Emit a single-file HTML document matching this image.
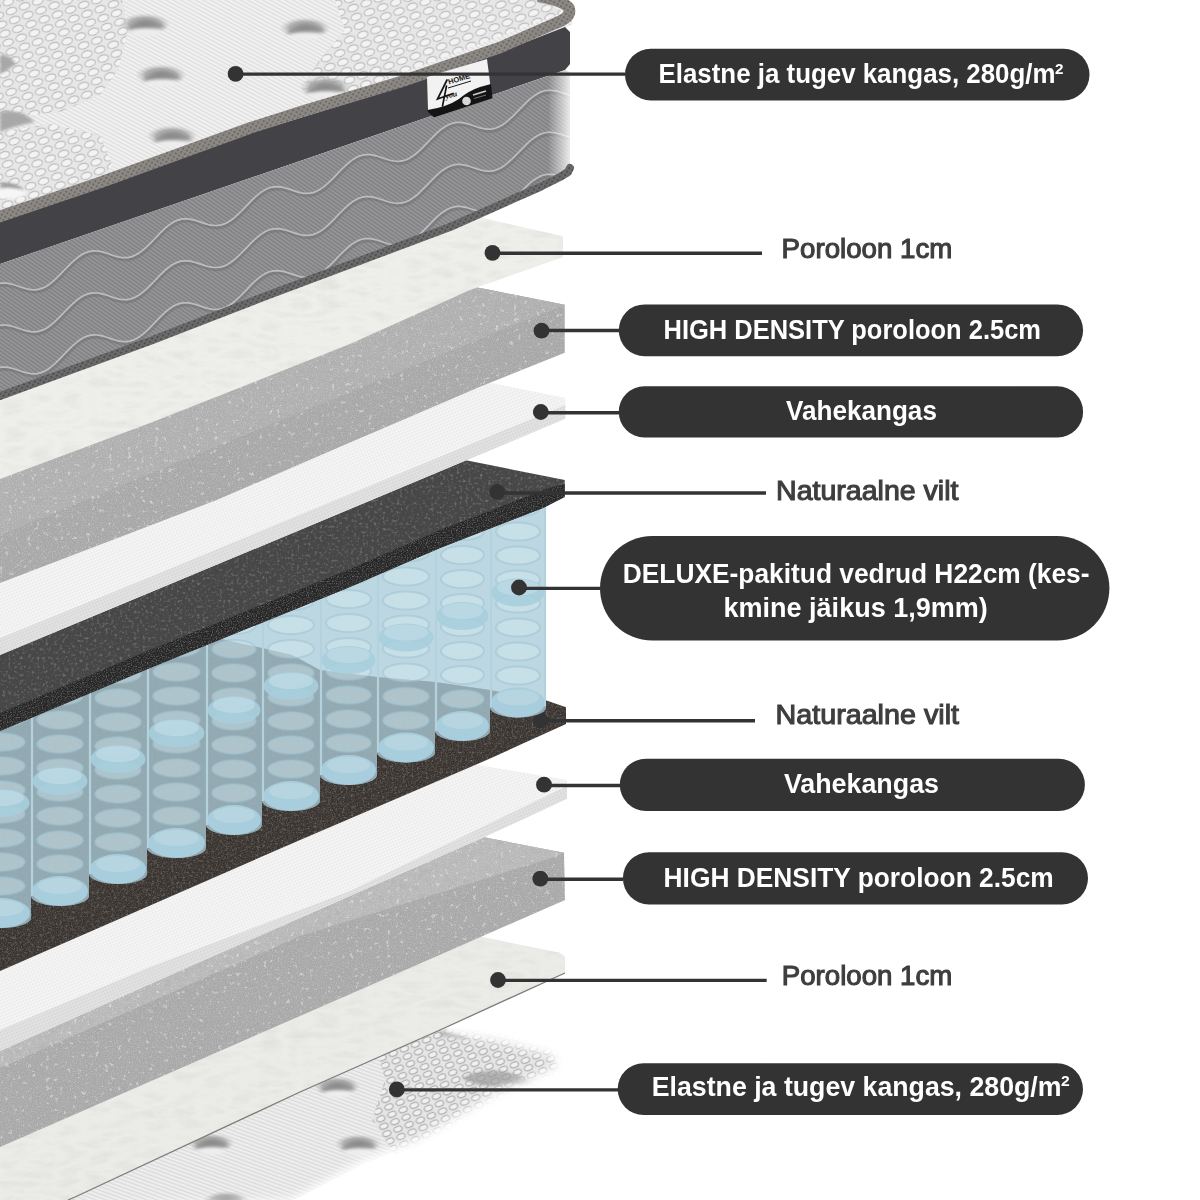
<!DOCTYPE html>
<html><head><meta charset="utf-8"><style>
html,body{margin:0;padding:0;background:#fff;width:1200px;height:1200px;overflow:hidden}
svg{display:block}
</style></head><body>
<svg width="1200" height="1200" viewBox="0 0 1200 1200">
<rect width="1200" height="1200" fill="#ffffff"/>
<defs>
 <filter id="fib2" x="0" y="0" width="100%" height="100%">
  <feTurbulence type="turbulence" baseFrequency="0.035 0.1" numOctaves="4" seed="9"/>
  <feColorMatrix type="matrix" values="0 0 0 0 0.45  0 0 0 0 0.45  0 0 0 0 0.42  1.3 0 0 0 -0.28"/>
  <feComposite in2="SourceAlpha" operator="in"/>
 </filter>
 <filter id="dotsL" x="0" y="0" width="100%" height="100%">
  <feTurbulence type="fractalNoise" baseFrequency="0.22" numOctaves="2" seed="21"/>
  <feColorMatrix type="matrix" values="0 0 0 0 1  0 0 0 0 1  0 0 0 0 1  0 0 0 10 -6.6"/>
  <feGaussianBlur stdDeviation="0.6"/>
  <feComposite in2="SourceAlpha" operator="in"/>
 </filter>
 <filter id="dotsD" x="0" y="0" width="100%" height="100%">
  <feTurbulence type="fractalNoise" baseFrequency="0.2" numOctaves="2" seed="33"/>
  <feColorMatrix type="matrix" values="0 0 0 0 0.4  0 0 0 0 0.4  0 0 0 0 0.4  0 0 0 8 -4.7"/>
  <feGaussianBlur stdDeviation="0.8"/>
  <feComposite in2="SourceAlpha" operator="in"/>
 </filter>
 <filter id="spk" x="0" y="0" width="100%" height="100%">
  <feTurbulence type="fractalNoise" baseFrequency="0.8" numOctaves="2" seed="7"/>
  <feColorMatrix type="matrix" values="0 0 0 0 1  0 0 0 0 1  0 0 0 0 1  0 0 0 -2.4 1.35"/>
  <feComposite in2="SourceAlpha" operator="in"/>
 </filter>
 <filter id="spkd" x="0" y="0" width="100%" height="100%">
  <feTurbulence type="fractalNoise" baseFrequency="0.7" numOctaves="2" seed="11"/>
  <feColorMatrix type="matrix" values="0 0 0 0 0  0 0 0 0 0  0 0 0 0 0  0 0 0 -2.4 1.3"/>
  <feComposite in2="SourceAlpha" operator="in"/>
 </filter>
 <filter id="fib" x="0" y="0" width="100%" height="100%">
  <feTurbulence type="fractalNoise" baseFrequency="0.06 0.15" numOctaves="3" seed="5"/>
  <feColorMatrix type="matrix" values="0 0 0 0 0.55  0 0 0 0 0.55  0 0 0 0 0.53  0 0 0 -1.6 0.85"/>
  <feComposite in2="SourceAlpha" operator="in"/>
 </filter>
 <filter id="mott" x="0" y="0" width="100%" height="100%">
  <feTurbulence type="fractalNoise" baseFrequency="0.35" numOctaves="3" seed="2"/>
  <feColorMatrix type="matrix" values="0 0 0 0 0.55  0 0 0 0 0.55  0 0 0 0 0.55  0 0 0 -2.2 1.05"/>
  <feComposite in2="SourceAlpha" operator="in"/>
 </filter>
 <filter id="blur1" x="-20%" y="-50%" width="140%" height="200%"><feGaussianBlur stdDeviation="1.6"/></filter>
 <filter id="blur3"><feGaussianBlur stdDeviation="3"/></filter>
 <pattern id="ribs" width="3.5" height="3.5" patternUnits="userSpaceOnUse" patternTransform="rotate(-62)">
  <rect width="3.5" height="3.5" fill="#f1f1f1"/><rect width="1.3" height="3.5" fill="#dddddd"/>
 </pattern>
 <pattern id="ribs2" width="3.5" height="3.5" patternUnits="userSpaceOnUse" patternTransform="rotate(-70)">
  <rect width="3.5" height="3.5" fill="#eeeeee"/><rect width="1.3" height="3.5" fill="#dadada"/>
 </pattern>
 <pattern id="rings" width="14" height="9.5" patternUnits="userSpaceOnUse" patternTransform="rotate(-20)">
  <rect width="14" height="9.5" fill="#e7e7e7"/>
  <ellipse cx="7" cy="4.75" rx="5.4" ry="3.4" fill="#f3f3f3" stroke="#bababa" stroke-width="1.1"/>
 </pattern>
 <pattern id="rings2" width="12" height="8" patternUnits="userSpaceOnUse" patternTransform="rotate(-22)">
  <rect width="12" height="8" fill="#e5e5e5"/>
  <ellipse cx="6" cy="4" rx="4.3" ry="2.8" fill="#f0f0f0" stroke="#aaaaaa" stroke-width="1.1"/>
 </pattern>
 <pattern id="panel" width="3.2" height="3.2" patternUnits="userSpaceOnUse" patternTransform="rotate(-55)">
  <rect width="3.2" height="3.2" fill="#959597"/><rect width="1.3" height="3.2" fill="#7f7f81"/>
 </pattern>
 <pattern id="pip" width="4" height="4" patternUnits="userSpaceOnUse" patternTransform="rotate(30)">
  <rect width="4" height="4" fill="#8c8884"/><rect width="2" height="2" fill="#6f6b68"/>
 </pattern>
 <pattern id="pip2" width="4" height="4" patternUnits="userSpaceOnUse" patternTransform="rotate(30)">
  <rect width="4" height="4" fill="#6a6a6a"/><rect width="2" height="2" fill="#4e4e4e"/>
 </pattern>
 <pattern id="mesh" width="3" height="3" patternUnits="userSpaceOnUse" patternTransform="rotate(-22)">
  <rect width="3" height="3" fill="#f5f5f5"/><rect width="1.5" height="1.5" fill="#e6e6e6"/>
 </pattern>
 <pattern id="meshf" width="3" height="3" patternUnits="userSpaceOnUse" patternTransform="rotate(-22)">
  <rect width="3" height="3" fill="#e2e2e2"/><rect width="1.5" height="1.5" fill="#d2d2d2"/>
 </pattern>
 <radialGradient id="tuftg" cx="0.5" cy="0.55" r="0.5">
  <stop offset="0" stop-color="#8a8a8a" stop-opacity="1"/><stop offset="0.6" stop-color="#a0a0a0" stop-opacity="0.8"/><stop offset="1" stop-color="#c8c8c8" stop-opacity="0"/>
 </radialGradient>
 <linearGradient id="endfade" x1="0" x2="1" y1="0" y2="0">
  <stop offset="0" stop-color="#fff" stop-opacity="0"/><stop offset="1" stop-color="#fff" stop-opacity="0.9"/>
 </linearGradient>
 <linearGradient id="m2f" gradientUnits="userSpaceOnUse" x1="400" y1="1075" x2="470" y2="1150">
  <stop offset="0" stop-color="#fff" stop-opacity="0"/><stop offset="1" stop-color="#fff" stop-opacity="1"/>
 </linearGradient>
 <linearGradient id="m2f2" gradientUnits="userSpaceOnUse" x1="520" y1="1040" x2="575" y2="1050">
  <stop offset="0" stop-color="#fff" stop-opacity="0"/><stop offset="1" stop-color="#fff" stop-opacity="1"/>
 </linearGradient>
</defs>
<filter id="blur6" x="-10%" y="-10%" width="120%" height="120%"><feGaussianBlur stdDeviation="5"/></filter>
<mask id="mm2"><polygon points="0.0,990.0 445.0,990.0 445.0,1033.0 500.0,1042.0 552.0,1056.0 556.0,1066.0 495.0,1093.0 422.0,1136.0 364.0,1159.0 290.0,1200.0 0.0,1210.0" fill="#fff" filter="url(#blur6)"/></mask>
<g mask="url(#mm2)">
<polygon points="0.0,1000.0 440.0,1000.0 440.0,1029.0 500.0,1038.0 556.0,1052.0 564.0,1066.0 498.0,1096.0 425.0,1140.0 367.0,1163.0 294.0,1200.0 0.0,1200.0" fill="url(#ribs2)" />
<polygon points="372.0,1030.0 600.0,1025.0 600.0,1120.0 470.0,1130.0 395.0,1155.0 372.0,1120.0 385.0,1080.0" fill="url(#rings2)" />
<path d="M462,1078 Q480,1068 505,1072 Q525,1076 540,1088 Q515,1082 495,1086 Q478,1088 462,1078 Z" fill="#9a9a9a" opacity="0.7" filter="url(#blur1)"/>
<path d="M440,1031 Q455,1030 470,1040 Q455,1038 440,1036 Z" fill="#8a8a8a" opacity="0.6" filter="url(#blur1)"/>
<ellipse cx="211" cy="1142" rx="24" ry="10" fill="url(#tuftg)"/>
<path d="M193,1149 Q211,1132 230,1147 Q211,1143 193,1149 Z" fill="#8c8c8c" opacity="0.8" filter="url(#blur1)"/>
<ellipse cx="212" cy="1151" rx="13" ry="3.5" fill="#eeeeee" filter="url(#blur1)"/>
<ellipse cx="337" cy="1085" rx="24" ry="10" fill="url(#tuftg)"/>
<path d="M319,1092 Q337,1075 356,1090 Q337,1086 319,1092 Z" fill="#8c8c8c" opacity="0.8" filter="url(#blur1)"/>
<ellipse cx="338" cy="1094" rx="13" ry="3.5" fill="#eeeeee" filter="url(#blur1)"/>
<ellipse cx="358" cy="1143" rx="24" ry="10" fill="url(#tuftg)"/>
<path d="M340,1150 Q358,1133 377,1148 Q358,1144 340,1150 Z" fill="#8c8c8c" opacity="0.8" filter="url(#blur1)"/>
<ellipse cx="359" cy="1152" rx="13" ry="3.5" fill="#eeeeee" filter="url(#blur1)"/>
<ellipse cx="226" cy="1200" rx="24" ry="10" fill="url(#tuftg)"/>
<path d="M208,1207 Q226,1190 245,1205 Q226,1201 208,1207 Z" fill="#8c8c8c" opacity="0.8" filter="url(#blur1)"/>
<ellipse cx="227" cy="1209" rx="13" ry="3.5" fill="#eeeeee" filter="url(#blur1)"/>
</g>
<polygon points="0.0,820.0 484.0,937.3 560.0,952.7 565.0,957.0 565.0,973.0 440.0,1030.0 300.0,1092.0 75.0,1197.0 68.0,1200.0 0.0,1200.0" fill="#ebebe8" />
<polygon points="0.0,820.0 484.0,937.3 560.0,952.7 565.0,957.0 565.0,973.0 440.0,1030.0 300.0,1092.0 75.0,1197.0 68.0,1200.0 0.0,1200.0" fill="#000" filter="url(#fib2)" opacity="0.22"/>
<polyline points="565.0,973.0 440.0,1030.0 300.0,1092.0 75.0,1197.0 68.0,1200.0" fill="none" stroke="#7d7c78" stroke-width="1.3"/>
<polygon points="0.0,744.0 484.0,837.3 564.0,852.7 565.0,900.0 440.0,954.7 300.0,1016.0 0.0,1147.0" fill="#a8a8a8" />
<polygon points="0.0,744.0 484.0,837.3 564.0,852.7 552.0,858.0 300.0,936.0 0.0,1068.0" fill="#b8b8b8" />
<polygon points="0.0,744.0 484.0,837.3 564.0,852.7 565.0,900.0 440.0,954.7 300.0,1016.0 0.0,1147.0" fill="#fff" filter="url(#spk)" opacity="0.25"/>
<polygon points="0.0,744.0 484.0,837.3 564.0,852.7 565.0,900.0 440.0,954.7 300.0,1016.0 0.0,1147.0" fill="#fff" filter="url(#dotsL)" opacity="0.35"/>
<polygon points="0.0,744.0 484.0,837.3 564.0,852.7 565.0,900.0 440.0,954.7 300.0,1016.0 0.0,1147.0" fill="#fff" filter="url(#dotsD)" opacity="0.45"/>
<polygon points="0.0,684.0 496.0,768.0 567.0,780.0 567.0,798.7 484.0,837.3 350.0,896.0 150.0,984.0 0.0,1051.0" fill="url(#mesh)" />
<polygon points="567.0,786.0 350.0,891.0 150.0,967.0 0.0,1030.0 0.0,1051.0 150.0,984.0 350.0,896.0 484.0,837.3 567.0,798.7" fill="url(#meshf)" />
<polygon points="0.0,590.0 262.0,648.0 292.0,655.0 320.0,670.0 377.0,677.0 435.0,682.0 490.0,690.0 545.0,700.0 566.0,707.3 566.0,724.0 486.7,760.0 300.0,840.0 0.0,971.0" fill="#39332f" />
<polygon points="0.0,590.0 262.0,648.0 292.0,655.0 320.0,670.0 377.0,677.0 435.0,682.0 490.0,690.0 545.0,700.0 566.0,707.3 566.0,724.0 486.7,760.0 300.0,840.0 0.0,971.0" fill="#000" filter="url(#mott)" opacity="0.35"/>
<polygon points="0.0,590.0 262.0,648.0 292.0,655.0 320.0,670.0 377.0,677.0 435.0,682.0 490.0,690.0 545.0,700.0 566.0,707.3 566.0,724.0 486.7,760.0 300.0,840.0 0.0,971.0" fill="#9a928c" filter="url(#spk)" opacity="0.18"/>
<line x1="540.5" y1="720.8" x2="755" y2="720.8" stroke="#333333" stroke-width="3.4"/>
<circle cx="540.5" cy="720.5" r="7.9" fill="#333333"/>
<clipPath id="csp"><path d="M-29,737.0106194690266 L31,712.1610619469027 L31,918 A30.0,10 0 0 1 -29,918 Z M31,712.1610619469027 L89,688.1398230088496 L89,896 A29.0,10 0 0 1 31,896 Z M89,688.1398230088496 L147,664.1185840707965 L147,874 A29.0,10 0 0 1 89,874 Z M147,664.1185840707965 L206,639.683185840708 L206,848 A29.5,10 0 0 1 147,848 Z M206,639.683185840708 L262,616.4902654867257 L262,825 A28.0,10 0 0 1 206,825 Z M262,616.4902654867257 L320,592.4690265486726 L320,801 A29.0,10 0 0 1 262,801 Z M320,592.4690265486726 L377,568.8619469026548 L377,775 A28.5,10 0 0 1 320,775 Z M377,568.8619469026548 L435,544.8407079646017 L435,752.5 A29.0,10 0 0 1 377,752.5 Z M435,544.8407079646017 L490,522.0619469026549 L490,731 A27.5,10 0 0 1 435,731 Z M490,522.0619469026549 L546,498.86902654867254 L546,707.5 A28.0,10 0 0 1 490,707.5 Z"/></clipPath>
<g>
<path d="M-29,737.0106194690266 L31,712.1610619469027 L31,918 A30.0,10 0 0 1 -29,918 Z" fill="#adcedb" fill-opacity="0.82"/>
<path d="M31,712.1610619469027 L89,688.1398230088496 L89,896 A29.0,10 0 0 1 31,896 Z" fill="#adcedb" fill-opacity="0.82"/>
<path d="M89,688.1398230088496 L147,664.1185840707965 L147,874 A29.0,10 0 0 1 89,874 Z" fill="#adcedb" fill-opacity="0.82"/>
<path d="M147,664.1185840707965 L206,639.683185840708 L206,848 A29.5,10 0 0 1 147,848 Z" fill="#adcedb" fill-opacity="0.82"/>
<path d="M206,639.683185840708 L262,616.4902654867257 L262,825 A28.0,10 0 0 1 206,825 Z" fill="#adcedb" fill-opacity="0.82"/>
<path d="M262,616.4902654867257 L320,592.4690265486726 L320,801 A29.0,10 0 0 1 262,801 Z" fill="#adcedb" fill-opacity="0.82"/>
<path d="M320,592.4690265486726 L377,568.8619469026548 L377,775 A28.5,10 0 0 1 320,775 Z" fill="#adcedb" fill-opacity="0.82"/>
<path d="M377,568.8619469026548 L435,544.8407079646017 L435,752.5 A29.0,10 0 0 1 377,752.5 Z" fill="#adcedb" fill-opacity="0.82"/>
<path d="M435,544.8407079646017 L490,522.0619469026549 L490,731 A27.5,10 0 0 1 435,731 Z" fill="#adcedb" fill-opacity="0.82"/>
<path d="M490,522.0619469026549 L546,498.86902654867254 L546,707.5 A28.0,10 0 0 1 490,707.5 Z" fill="#adcedb" fill-opacity="0.82"/>
<g clip-path="url(#csp)">
<polygon points="0.0,590.0 262.0,648.0 292.0,655.0 320.0,670.0 377.0,677.0 435.0,682.0 490.0,690.0 545.0,700.0 566.0,707.3 566.0,724.0 486.7,760.0 300.0,840.0 0.0,971.0" fill="#8a9aa3" opacity="0.4"/>
</g>
<ellipse cx="1.0" cy="886.0" rx="24.0" ry="9" fill="#d8eaf1" fill-opacity="0.4" stroke="#9cc2d2" stroke-width="2" stroke-opacity="0.5"/>
<ellipse cx="1.0" cy="862.0" rx="24.0" ry="9" fill="#d8eaf1" fill-opacity="0.4" stroke="#9cc2d2" stroke-width="2" stroke-opacity="0.5"/>
<ellipse cx="1.0" cy="838.0" rx="24.0" ry="9" fill="#d8eaf1" fill-opacity="0.4" stroke="#9cc2d2" stroke-width="2" stroke-opacity="0.5"/>
<ellipse cx="1.0" cy="814.0" rx="24.0" ry="9" fill="#d8eaf1" fill-opacity="0.4" stroke="#9cc2d2" stroke-width="2" stroke-opacity="0.5"/>
<ellipse cx="1.0" cy="790.0" rx="24.0" ry="9" fill="#d8eaf1" fill-opacity="0.4" stroke="#9cc2d2" stroke-width="2" stroke-opacity="0.5"/>
<ellipse cx="1.0" cy="766.0" rx="24.0" ry="9" fill="#d8eaf1" fill-opacity="0.4" stroke="#9cc2d2" stroke-width="2" stroke-opacity="0.5"/>
<ellipse cx="1.0" cy="742.0" rx="24.0" ry="9" fill="#d8eaf1" fill-opacity="0.4" stroke="#9cc2d2" stroke-width="2" stroke-opacity="0.5"/>
<ellipse cx="1.0" cy="718.0" rx="24.0" ry="9" fill="#d8eaf1" fill-opacity="0.4" stroke="#9cc2d2" stroke-width="2" stroke-opacity="0.5"/>
<ellipse cx="1.0" cy="803" rx="28.5" ry="14" fill="#a7cedd" fill-opacity="0.9"/>
<ellipse cx="1.0" cy="798" rx="23.0" ry="8" fill="#bcd9e4" fill-opacity="0.85"/>
<ellipse cx="1.0" cy="913" rx="29.0" ry="15" fill="#a8cddc"/>
<ellipse cx="1.0" cy="908" rx="23.0" ry="8" fill="#b6d5e0"/>
<line x1="-28" y1="737.0106194690266" x2="-28" y2="918" stroke="#b3d2de" stroke-width="2.2"/>
<ellipse cx="60.0" cy="864.0" rx="23.0" ry="9" fill="#d8eaf1" fill-opacity="0.4" stroke="#9cc2d2" stroke-width="2" stroke-opacity="0.5"/>
<ellipse cx="60.0" cy="840.0" rx="23.0" ry="9" fill="#d8eaf1" fill-opacity="0.4" stroke="#9cc2d2" stroke-width="2" stroke-opacity="0.5"/>
<ellipse cx="60.0" cy="816.0" rx="23.0" ry="9" fill="#d8eaf1" fill-opacity="0.4" stroke="#9cc2d2" stroke-width="2" stroke-opacity="0.5"/>
<ellipse cx="60.0" cy="792.0" rx="23.0" ry="9" fill="#d8eaf1" fill-opacity="0.4" stroke="#9cc2d2" stroke-width="2" stroke-opacity="0.5"/>
<ellipse cx="60.0" cy="768.0" rx="23.0" ry="9" fill="#d8eaf1" fill-opacity="0.4" stroke="#9cc2d2" stroke-width="2" stroke-opacity="0.5"/>
<ellipse cx="60.0" cy="744.0" rx="23.0" ry="9" fill="#d8eaf1" fill-opacity="0.4" stroke="#9cc2d2" stroke-width="2" stroke-opacity="0.5"/>
<ellipse cx="60.0" cy="720.0" rx="23.0" ry="9" fill="#d8eaf1" fill-opacity="0.4" stroke="#9cc2d2" stroke-width="2" stroke-opacity="0.5"/>
<ellipse cx="60.0" cy="696.0" rx="23.0" ry="9" fill="#d8eaf1" fill-opacity="0.4" stroke="#9cc2d2" stroke-width="2" stroke-opacity="0.5"/>
<ellipse cx="60.0" cy="781" rx="27.5" ry="14" fill="#a7cedd" fill-opacity="0.9"/>
<ellipse cx="60.0" cy="776" rx="22.0" ry="8" fill="#bcd9e4" fill-opacity="0.85"/>
<ellipse cx="60.0" cy="891" rx="28.0" ry="15" fill="#a8cddc"/>
<ellipse cx="60.0" cy="886" rx="22.0" ry="8" fill="#b6d5e0"/>
<line x1="32" y1="712.1610619469027" x2="32" y2="896" stroke="#b3d2de" stroke-width="2.2"/>
<ellipse cx="118.0" cy="842.0" rx="23.0" ry="9" fill="#d8eaf1" fill-opacity="0.4" stroke="#9cc2d2" stroke-width="2" stroke-opacity="0.5"/>
<ellipse cx="118.0" cy="818.0" rx="23.0" ry="9" fill="#d8eaf1" fill-opacity="0.4" stroke="#9cc2d2" stroke-width="2" stroke-opacity="0.5"/>
<ellipse cx="118.0" cy="794.0" rx="23.0" ry="9" fill="#d8eaf1" fill-opacity="0.4" stroke="#9cc2d2" stroke-width="2" stroke-opacity="0.5"/>
<ellipse cx="118.0" cy="770.0" rx="23.0" ry="9" fill="#d8eaf1" fill-opacity="0.4" stroke="#9cc2d2" stroke-width="2" stroke-opacity="0.5"/>
<ellipse cx="118.0" cy="746.0" rx="23.0" ry="9" fill="#d8eaf1" fill-opacity="0.4" stroke="#9cc2d2" stroke-width="2" stroke-opacity="0.5"/>
<ellipse cx="118.0" cy="722.0" rx="23.0" ry="9" fill="#d8eaf1" fill-opacity="0.4" stroke="#9cc2d2" stroke-width="2" stroke-opacity="0.5"/>
<ellipse cx="118.0" cy="698.0" rx="23.0" ry="9" fill="#d8eaf1" fill-opacity="0.4" stroke="#9cc2d2" stroke-width="2" stroke-opacity="0.5"/>
<ellipse cx="118.0" cy="674.0" rx="23.0" ry="9" fill="#d8eaf1" fill-opacity="0.4" stroke="#9cc2d2" stroke-width="2" stroke-opacity="0.5"/>
<ellipse cx="118.0" cy="759" rx="27.5" ry="14" fill="#a7cedd" fill-opacity="0.9"/>
<ellipse cx="118.0" cy="754" rx="22.0" ry="8" fill="#bcd9e4" fill-opacity="0.85"/>
<ellipse cx="118.0" cy="869" rx="28.0" ry="15" fill="#a8cddc"/>
<ellipse cx="118.0" cy="864" rx="22.0" ry="8" fill="#b6d5e0"/>
<line x1="90" y1="688.1398230088496" x2="90" y2="874" stroke="#b3d2de" stroke-width="2.2"/>
<ellipse cx="176.5" cy="816.0" rx="23.5" ry="9" fill="#d8eaf1" fill-opacity="0.4" stroke="#9cc2d2" stroke-width="2" stroke-opacity="0.5"/>
<ellipse cx="176.5" cy="792.0" rx="23.5" ry="9" fill="#d8eaf1" fill-opacity="0.4" stroke="#9cc2d2" stroke-width="2" stroke-opacity="0.5"/>
<ellipse cx="176.5" cy="768.0" rx="23.5" ry="9" fill="#d8eaf1" fill-opacity="0.4" stroke="#9cc2d2" stroke-width="2" stroke-opacity="0.5"/>
<ellipse cx="176.5" cy="744.0" rx="23.5" ry="9" fill="#d8eaf1" fill-opacity="0.4" stroke="#9cc2d2" stroke-width="2" stroke-opacity="0.5"/>
<ellipse cx="176.5" cy="720.0" rx="23.5" ry="9" fill="#d8eaf1" fill-opacity="0.4" stroke="#9cc2d2" stroke-width="2" stroke-opacity="0.5"/>
<ellipse cx="176.5" cy="696.0" rx="23.5" ry="9" fill="#d8eaf1" fill-opacity="0.4" stroke="#9cc2d2" stroke-width="2" stroke-opacity="0.5"/>
<ellipse cx="176.5" cy="672.0" rx="23.5" ry="9" fill="#d8eaf1" fill-opacity="0.4" stroke="#9cc2d2" stroke-width="2" stroke-opacity="0.5"/>
<ellipse cx="176.5" cy="648.0" rx="23.5" ry="9" fill="#d8eaf1" fill-opacity="0.4" stroke="#9cc2d2" stroke-width="2" stroke-opacity="0.5"/>
<ellipse cx="176.5" cy="733" rx="28.0" ry="14" fill="#a7cedd" fill-opacity="0.9"/>
<ellipse cx="176.5" cy="728" rx="22.5" ry="8" fill="#bcd9e4" fill-opacity="0.85"/>
<ellipse cx="176.5" cy="843" rx="28.5" ry="15" fill="#a8cddc"/>
<ellipse cx="176.5" cy="838" rx="22.5" ry="8" fill="#b6d5e0"/>
<line x1="148" y1="664.1185840707965" x2="148" y2="848" stroke="#b3d2de" stroke-width="2.2"/>
<ellipse cx="234.0" cy="793.0" rx="22.0" ry="9" fill="#d8eaf1" fill-opacity="0.4" stroke="#9cc2d2" stroke-width="2" stroke-opacity="0.5"/>
<ellipse cx="234.0" cy="769.0" rx="22.0" ry="9" fill="#d8eaf1" fill-opacity="0.4" stroke="#9cc2d2" stroke-width="2" stroke-opacity="0.5"/>
<ellipse cx="234.0" cy="745.0" rx="22.0" ry="9" fill="#d8eaf1" fill-opacity="0.4" stroke="#9cc2d2" stroke-width="2" stroke-opacity="0.5"/>
<ellipse cx="234.0" cy="721.0" rx="22.0" ry="9" fill="#d8eaf1" fill-opacity="0.4" stroke="#9cc2d2" stroke-width="2" stroke-opacity="0.5"/>
<ellipse cx="234.0" cy="697.0" rx="22.0" ry="9" fill="#d8eaf1" fill-opacity="0.4" stroke="#9cc2d2" stroke-width="2" stroke-opacity="0.5"/>
<ellipse cx="234.0" cy="673.0" rx="22.0" ry="9" fill="#d8eaf1" fill-opacity="0.4" stroke="#9cc2d2" stroke-width="2" stroke-opacity="0.5"/>
<ellipse cx="234.0" cy="649.0" rx="22.0" ry="9" fill="#d8eaf1" fill-opacity="0.4" stroke="#9cc2d2" stroke-width="2" stroke-opacity="0.5"/>
<ellipse cx="234.0" cy="625.0" rx="22.0" ry="9" fill="#d8eaf1" fill-opacity="0.4" stroke="#9cc2d2" stroke-width="2" stroke-opacity="0.5"/>
<ellipse cx="234.0" cy="710" rx="26.5" ry="14" fill="#a7cedd" fill-opacity="0.9"/>
<ellipse cx="234.0" cy="705" rx="21.0" ry="8" fill="#bcd9e4" fill-opacity="0.85"/>
<ellipse cx="234.0" cy="820" rx="27.0" ry="15" fill="#a8cddc"/>
<ellipse cx="234.0" cy="815" rx="21.0" ry="8" fill="#b6d5e0"/>
<line x1="207" y1="639.683185840708" x2="207" y2="825" stroke="#b3d2de" stroke-width="2.2"/>
<ellipse cx="291.0" cy="769.0" rx="23.0" ry="9" fill="#d8eaf1" fill-opacity="0.4" stroke="#9cc2d2" stroke-width="2" stroke-opacity="0.5"/>
<ellipse cx="291.0" cy="745.0" rx="23.0" ry="9" fill="#d8eaf1" fill-opacity="0.4" stroke="#9cc2d2" stroke-width="2" stroke-opacity="0.5"/>
<ellipse cx="291.0" cy="721.0" rx="23.0" ry="9" fill="#d8eaf1" fill-opacity="0.4" stroke="#9cc2d2" stroke-width="2" stroke-opacity="0.5"/>
<ellipse cx="291.0" cy="697.0" rx="23.0" ry="9" fill="#d8eaf1" fill-opacity="0.4" stroke="#9cc2d2" stroke-width="2" stroke-opacity="0.5"/>
<ellipse cx="291.0" cy="673.0" rx="23.0" ry="9" fill="#d8eaf1" fill-opacity="0.4" stroke="#9cc2d2" stroke-width="2" stroke-opacity="0.5"/>
<ellipse cx="291.0" cy="649.0" rx="23.0" ry="9" fill="#d8eaf1" fill-opacity="0.4" stroke="#9cc2d2" stroke-width="2" stroke-opacity="0.5"/>
<ellipse cx="291.0" cy="625.0" rx="23.0" ry="9" fill="#d8eaf1" fill-opacity="0.4" stroke="#9cc2d2" stroke-width="2" stroke-opacity="0.5"/>
<ellipse cx="291.0" cy="601.0" rx="23.0" ry="9" fill="#d8eaf1" fill-opacity="0.4" stroke="#9cc2d2" stroke-width="2" stroke-opacity="0.5"/>
<ellipse cx="291.0" cy="686" rx="27.5" ry="14" fill="#a7cedd" fill-opacity="0.9"/>
<ellipse cx="291.0" cy="681" rx="22.0" ry="8" fill="#bcd9e4" fill-opacity="0.85"/>
<ellipse cx="291.0" cy="796" rx="28.0" ry="15" fill="#a8cddc"/>
<ellipse cx="291.0" cy="791" rx="22.0" ry="8" fill="#b6d5e0"/>
<line x1="263" y1="616.4902654867257" x2="263" y2="801" stroke="#b3d2de" stroke-width="2.2"/>
<ellipse cx="348.5" cy="743.0" rx="22.5" ry="9" fill="#d8eaf1" fill-opacity="0.4" stroke="#9cc2d2" stroke-width="2" stroke-opacity="0.5"/>
<ellipse cx="348.5" cy="719.0" rx="22.5" ry="9" fill="#d8eaf1" fill-opacity="0.4" stroke="#9cc2d2" stroke-width="2" stroke-opacity="0.5"/>
<ellipse cx="348.5" cy="695.0" rx="22.5" ry="9" fill="#d8eaf1" fill-opacity="0.4" stroke="#9cc2d2" stroke-width="2" stroke-opacity="0.5"/>
<ellipse cx="348.5" cy="671.0" rx="22.5" ry="9" fill="#d8eaf1" fill-opacity="0.4" stroke="#9cc2d2" stroke-width="2" stroke-opacity="0.5"/>
<ellipse cx="348.5" cy="647.0" rx="22.5" ry="9" fill="#d8eaf1" fill-opacity="0.4" stroke="#9cc2d2" stroke-width="2" stroke-opacity="0.5"/>
<ellipse cx="348.5" cy="623.0" rx="22.5" ry="9" fill="#d8eaf1" fill-opacity="0.4" stroke="#9cc2d2" stroke-width="2" stroke-opacity="0.5"/>
<ellipse cx="348.5" cy="599.0" rx="22.5" ry="9" fill="#d8eaf1" fill-opacity="0.4" stroke="#9cc2d2" stroke-width="2" stroke-opacity="0.5"/>
<ellipse cx="348.5" cy="575.0" rx="22.5" ry="9" fill="#d8eaf1" fill-opacity="0.4" stroke="#9cc2d2" stroke-width="2" stroke-opacity="0.5"/>
<ellipse cx="348.5" cy="660" rx="27.0" ry="14" fill="#a7cedd" fill-opacity="0.9"/>
<ellipse cx="348.5" cy="655" rx="21.5" ry="8" fill="#bcd9e4" fill-opacity="0.85"/>
<ellipse cx="348.5" cy="770" rx="27.5" ry="15" fill="#a8cddc"/>
<ellipse cx="348.5" cy="765" rx="21.5" ry="8" fill="#b6d5e0"/>
<line x1="321" y1="592.4690265486726" x2="321" y2="775" stroke="#b3d2de" stroke-width="2.2"/>
<ellipse cx="406.0" cy="720.5" rx="23.0" ry="9" fill="#d8eaf1" fill-opacity="0.4" stroke="#9cc2d2" stroke-width="2" stroke-opacity="0.5"/>
<ellipse cx="406.0" cy="696.5" rx="23.0" ry="9" fill="#d8eaf1" fill-opacity="0.4" stroke="#9cc2d2" stroke-width="2" stroke-opacity="0.5"/>
<ellipse cx="406.0" cy="672.5" rx="23.0" ry="9" fill="#d8eaf1" fill-opacity="0.4" stroke="#9cc2d2" stroke-width="2" stroke-opacity="0.5"/>
<ellipse cx="406.0" cy="648.5" rx="23.0" ry="9" fill="#d8eaf1" fill-opacity="0.4" stroke="#9cc2d2" stroke-width="2" stroke-opacity="0.5"/>
<ellipse cx="406.0" cy="624.5" rx="23.0" ry="9" fill="#d8eaf1" fill-opacity="0.4" stroke="#9cc2d2" stroke-width="2" stroke-opacity="0.5"/>
<ellipse cx="406.0" cy="600.5" rx="23.0" ry="9" fill="#d8eaf1" fill-opacity="0.4" stroke="#9cc2d2" stroke-width="2" stroke-opacity="0.5"/>
<ellipse cx="406.0" cy="576.5" rx="23.0" ry="9" fill="#d8eaf1" fill-opacity="0.4" stroke="#9cc2d2" stroke-width="2" stroke-opacity="0.5"/>
<ellipse cx="406.0" cy="552.5" rx="23.0" ry="9" fill="#d8eaf1" fill-opacity="0.4" stroke="#9cc2d2" stroke-width="2" stroke-opacity="0.5"/>
<ellipse cx="406.0" cy="637.5" rx="27.5" ry="14" fill="#a7cedd" fill-opacity="0.9"/>
<ellipse cx="406.0" cy="632.5" rx="22.0" ry="8" fill="#bcd9e4" fill-opacity="0.85"/>
<ellipse cx="406.0" cy="747.5" rx="28.0" ry="15" fill="#a8cddc"/>
<ellipse cx="406.0" cy="742.5" rx="22.0" ry="8" fill="#b6d5e0"/>
<line x1="378" y1="568.8619469026548" x2="378" y2="752.5" stroke="#b3d2de" stroke-width="2.2"/>
<ellipse cx="462.5" cy="699.0" rx="21.5" ry="9" fill="#d8eaf1" fill-opacity="0.4" stroke="#9cc2d2" stroke-width="2" stroke-opacity="0.5"/>
<ellipse cx="462.5" cy="675.0" rx="21.5" ry="9" fill="#d8eaf1" fill-opacity="0.4" stroke="#9cc2d2" stroke-width="2" stroke-opacity="0.5"/>
<ellipse cx="462.5" cy="651.0" rx="21.5" ry="9" fill="#d8eaf1" fill-opacity="0.4" stroke="#9cc2d2" stroke-width="2" stroke-opacity="0.5"/>
<ellipse cx="462.5" cy="627.0" rx="21.5" ry="9" fill="#d8eaf1" fill-opacity="0.4" stroke="#9cc2d2" stroke-width="2" stroke-opacity="0.5"/>
<ellipse cx="462.5" cy="603.0" rx="21.5" ry="9" fill="#d8eaf1" fill-opacity="0.4" stroke="#9cc2d2" stroke-width="2" stroke-opacity="0.5"/>
<ellipse cx="462.5" cy="579.0" rx="21.5" ry="9" fill="#d8eaf1" fill-opacity="0.4" stroke="#9cc2d2" stroke-width="2" stroke-opacity="0.5"/>
<ellipse cx="462.5" cy="555.0" rx="21.5" ry="9" fill="#d8eaf1" fill-opacity="0.4" stroke="#9cc2d2" stroke-width="2" stroke-opacity="0.5"/>
<ellipse cx="462.5" cy="531.0" rx="21.5" ry="9" fill="#d8eaf1" fill-opacity="0.4" stroke="#9cc2d2" stroke-width="2" stroke-opacity="0.5"/>
<ellipse cx="462.5" cy="616" rx="26.0" ry="14" fill="#a7cedd" fill-opacity="0.9"/>
<ellipse cx="462.5" cy="611" rx="20.5" ry="8" fill="#bcd9e4" fill-opacity="0.85"/>
<ellipse cx="462.5" cy="726" rx="26.5" ry="15" fill="#a8cddc"/>
<ellipse cx="462.5" cy="721" rx="20.5" ry="8" fill="#b6d5e0"/>
<line x1="436" y1="544.8407079646017" x2="436" y2="731" stroke="#b3d2de" stroke-width="2.2"/>
<ellipse cx="518.0" cy="675.5" rx="22.0" ry="9" fill="#d8eaf1" fill-opacity="0.4" stroke="#9cc2d2" stroke-width="2" stroke-opacity="0.5"/>
<ellipse cx="518.0" cy="651.5" rx="22.0" ry="9" fill="#d8eaf1" fill-opacity="0.4" stroke="#9cc2d2" stroke-width="2" stroke-opacity="0.5"/>
<ellipse cx="518.0" cy="627.5" rx="22.0" ry="9" fill="#d8eaf1" fill-opacity="0.4" stroke="#9cc2d2" stroke-width="2" stroke-opacity="0.5"/>
<ellipse cx="518.0" cy="603.5" rx="22.0" ry="9" fill="#d8eaf1" fill-opacity="0.4" stroke="#9cc2d2" stroke-width="2" stroke-opacity="0.5"/>
<ellipse cx="518.0" cy="579.5" rx="22.0" ry="9" fill="#d8eaf1" fill-opacity="0.4" stroke="#9cc2d2" stroke-width="2" stroke-opacity="0.5"/>
<ellipse cx="518.0" cy="555.5" rx="22.0" ry="9" fill="#d8eaf1" fill-opacity="0.4" stroke="#9cc2d2" stroke-width="2" stroke-opacity="0.5"/>
<ellipse cx="518.0" cy="531.5" rx="22.0" ry="9" fill="#d8eaf1" fill-opacity="0.4" stroke="#9cc2d2" stroke-width="2" stroke-opacity="0.5"/>
<ellipse cx="518.0" cy="507.5" rx="22.0" ry="9" fill="#d8eaf1" fill-opacity="0.4" stroke="#9cc2d2" stroke-width="2" stroke-opacity="0.5"/>
<ellipse cx="518.0" cy="592.5" rx="26.5" ry="14" fill="#a7cedd" fill-opacity="0.9"/>
<ellipse cx="518.0" cy="587.5" rx="21.0" ry="8" fill="#bcd9e4" fill-opacity="0.85"/>
<ellipse cx="518.0" cy="702.5" rx="27.0" ry="15" fill="#a8cddc"/>
<ellipse cx="518.0" cy="697.5" rx="21.0" ry="8" fill="#b6d5e0"/>
<line x1="491" y1="522.0619469026549" x2="491" y2="707.5" stroke="#b3d2de" stroke-width="2.2"/>
<line x1="545" y1="500" x2="545" y2="706" stroke="#b3d2de" stroke-width="2.2"/>
</g>
<polygon points="0.0,380.0 464.7,460.0 564.7,480.0 564.7,497.0 543.0,508.0 440.0,548.0 350.0,587.0 150.0,668.0 0.0,731.0" fill="#474747" />
<polygon points="0.0,380.0 464.7,460.0 564.7,480.0 564.7,497.0 543.0,508.0 440.0,548.0 350.0,587.0 150.0,668.0 0.0,731.0" fill="#000" filter="url(#mott)" opacity="0.45"/>
<polygon points="564.7,484.0 549.0,488.0 440.0,530.0 350.0,569.0 150.0,650.0 0.0,713.0 0.0,731.0 150.0,668.0 350.0,587.0 440.0,548.0 543.0,508.0 564.7,497.0" fill="#262626" />
<polygon points="564.7,484.0 549.0,488.0 440.0,530.0 350.0,569.0 150.0,650.0 0.0,713.0 0.0,731.0 150.0,668.0 350.0,587.0 440.0,548.0 543.0,508.0 564.7,497.0" fill="#888" filter="url(#spk)" opacity="0.3"/>
<polygon points="0.0,300.0 497.0,384.0 565.3,398.0 565.3,418.7 300.0,530.0 0.0,655.0" fill="url(#mesh)" />
<polygon points="565.3,405.0 350.0,494.0 150.0,577.0 0.0,638.0 0.0,655.0 300.0,530.0 565.3,418.7" fill="url(#meshf)" />
<polygon points="0.0,200.0 486.7,289.3 564.7,304.7 564.7,352.7 480.0,386.7 350.0,442.5 216.7,500.0 0.0,583.0" fill="#a7a7a7" />
<polygon points="0.0,200.0 486.7,289.3 564.7,304.7 549.0,311.0 350.0,392.0 0.0,535.0" fill="#afafaf" />
<polygon points="0.0,200.0 486.7,289.3 564.7,304.7 564.7,352.7 480.0,386.7 350.0,442.5 216.7,500.0 0.0,583.0" fill="#fff" filter="url(#spk)" opacity="0.25"/>
<polygon points="0.0,200.0 486.7,289.3 564.7,304.7 564.7,352.7 480.0,386.7 350.0,442.5 216.7,500.0 0.0,583.0" fill="#fff" filter="url(#dotsL)" opacity="0.35"/>
<polygon points="0.0,200.0 486.7,289.3 564.7,304.7 564.7,352.7 480.0,386.7 350.0,442.5 216.7,500.0 0.0,583.0" fill="#fff" filter="url(#dotsD)" opacity="0.45"/>
<polygon points="0.0,100.0 500.0,222.0 562.0,236.0 563.0,237.0 563.0,257.0 470.0,290.0 350.0,344.0 150.0,423.0 0.0,479.0" fill="#eeeeeb" />
<polygon points="0.0,100.0 500.0,222.0 562.0,236.0 563.0,237.0 563.0,257.0 470.0,290.0 350.0,344.0 150.0,423.0 0.0,479.0" fill="#000" filter="url(#fib2)" opacity="0.22"/>
<clipPath id="ctop"><polygon points="0.0,0.0 540.0,0.0 572.0,14.0 572.0,25.0 0.0,225.0"/></clipPath>
<g clip-path="url(#ctop)">
<polygon points="0.0,0.0 540.0,0.0 572.0,14.0 572.0,25.0 0.0,225.0" fill="url(#ribs)" />
<polygon points="0.0,0.0 122.0,0.0 128.0,30.0 118.0,70.0 100.0,95.0 60.0,112.0 0.0,118.0" fill="url(#rings)" />
<polygon points="0.0,132.0 50.0,124.0 100.0,135.0 112.0,165.0 95.0,190.0 40.0,210.0 0.0,222.0" fill="url(#rings)" />
<polygon points="335.0,0.0 540.0,0.0 565.0,12.0 330.0,100.0 300.0,92.0 318.0,62.0 345.0,30.0" fill="url(#rings)" />
<ellipse cx="145" cy="23" rx="26" ry="11" fill="url(#tuftg)"/>
<path d="M126,30 Q145,12 166,28 Q145,24 126,30 Z" fill="#8c8c8c" opacity="0.8" filter="url(#blur1)"/>
<ellipse cx="146" cy="32" rx="15" ry="3.5" fill="#eeeeee" filter="url(#blur1)"/>
<ellipse cx="305" cy="27" rx="26" ry="11" fill="url(#tuftg)"/>
<path d="M286,34 Q305,16 326,32 Q305,28 286,34 Z" fill="#8c8c8c" opacity="0.8" filter="url(#blur1)"/>
<ellipse cx="306" cy="36" rx="15" ry="3.5" fill="#eeeeee" filter="url(#blur1)"/>
<ellipse cx="161" cy="74" rx="26" ry="11" fill="url(#tuftg)"/>
<path d="M142,81 Q161,63 182,79 Q161,75 142,81 Z" fill="#8c8c8c" opacity="0.8" filter="url(#blur1)"/>
<ellipse cx="162" cy="83" rx="15" ry="3.5" fill="#eeeeee" filter="url(#blur1)"/>
<ellipse cx="325" cy="86" rx="26" ry="11" fill="url(#tuftg)"/>
<path d="M306,93 Q325,75 346,91 Q325,87 306,93 Z" fill="#8c8c8c" opacity="0.8" filter="url(#blur1)"/>
<ellipse cx="326" cy="95" rx="15" ry="3.5" fill="#eeeeee" filter="url(#blur1)"/>
<ellipse cx="172" cy="135" rx="26" ry="11" fill="url(#tuftg)"/>
<path d="M153,142 Q172,124 193,140 Q172,136 153,142 Z" fill="#8c8c8c" opacity="0.8" filter="url(#blur1)"/>
<ellipse cx="173" cy="144" rx="15" ry="3.5" fill="#eeeeee" filter="url(#blur1)"/>
<path d="M0,112 Q20,108 35,122 Q15,126 0,132 Z" fill="#a8a8a8" filter="url(#blur1)"/>
<path d="M0,55 Q10,54 16,64 Q8,70 0,74 Z" fill="#a8a8a8" filter="url(#blur1)"/>
<ellipse cx="10" cy="193" rx="16" ry="6" fill="#f6f6f6" filter="url(#blur1)"/>
<path d="M0,184 Q12,180 24,190 Q10,186 0,188 Z" fill="#999" filter="url(#blur1)"/>
</g>
<polygon points="0.0,222.0 100.0,188.0 250.0,133.0 300.0,118.0 400.0,87.0 500.0,52.0 565.0,27.0 570.0,32.0 570.0,64.0 565.0,70.0 300.0,161.0 0.0,264.0" fill="#434247" />
<clipPath id="cside"><polygon points="0.0,264.0 300.0,161.0 565.0,70.0 570.0,72.0 570.0,170.0 540.0,188.0 450.0,228.0 266.0,298.0 150.0,342.0 0.0,396.0"/></clipPath>
<g clip-path="url(#cside)">
<polygon points="0.0,264.0 300.0,161.0 565.0,70.0 570.0,72.0 570.0,170.0 540.0,188.0 450.0,228.0 266.0,298.0 150.0,342.0 0.0,396.0" fill="url(#panel)" />
<polyline points="-20,211.5 -17,208.7 -14,206.1 -11,203.9 -8,202.1 -5,200.7 -2,199.7 1,199.2 4,199.0 7,199.2 10,199.8 13,200.5 16,201.5 19,202.5 22,203.5 25,204.4 28,205.2 31,205.6 34,205.8 37,205.6 40,204.9 43,203.9 46,202.4 49,200.5 52,198.2 55,195.6 58,192.7 61,189.7 64,186.5 67,183.4 70,180.4 73,177.5 76,174.8 79,172.5 82,170.5 85,169.0 88,167.9 91,167.2 94,166.9 97,167.0 100,167.4 103,168.1 106,169.0 109,170.0 112,171.1 115,172.0 118,172.8 121,173.4 124,173.7 127,173.6 130,173.1 133,172.1 136,170.8 139,169.0 142,166.9 145,164.4 148,161.6 151,158.6 154,155.5 157,152.3 160,149.2 163,146.3 166,143.5 169,141.1 172,139.0 175,137.3 178,136.1 181,135.2 184,134.8 187,134.8 190,135.1 193,135.8 196,136.6 199,137.6 202,138.6 205,139.6 208,140.5 211,141.1 214,141.5 217,141.5 220,141.2 223,140.4 226,139.2 229,137.5 232,135.5 235,133.1 238,130.4 241,127.5 244,124.4 247,121.3 250,118.1 253,115.1 256,112.3 259,109.8 262,107.6 265,105.7 268,104.3 271,103.3 274,102.8 277,102.6 280,102.9 283,103.4 286,104.2 289,105.1 292,106.1 295,107.1 298,108.1 301,108.8 304,109.3 307,109.4 310,109.2 313,108.6 316,107.5 319,106.0 322,104.1 325,101.8 328,99.2 331,96.3 334,93.3 337,90.2 340,87.0 343,84.0 346,81.1 349,78.5 352,76.1 355,74.2 358,72.6 361,71.5 364,70.8 367,70.5 370,70.6 373,71.1 376,71.8 379,72.7 382,73.7 385,74.7 388,75.7 391,76.5 394,77.0 397,77.3 400,77.2 403,76.7 406,75.8 409,74.4 412,72.6 415,70.5 418,68.0 421,65.2 424,62.2 427,59.1 430,56.0 433,52.9 436,49.9 439,47.2 442,44.7 445,42.7 448,41.0 451,39.7 454,38.9 457,38.4 460,38.4 463,38.8 466,39.4 469,40.2 472,41.2 475,42.2 478,43.2 481,44.1 484,44.7 487,45.1 490,45.1 493,44.8 496,44.0 499,42.8 502,41.2 505,39.1 508,36.7 511,34.0 514,31.1 517,28.0 520,24.9 523,21.8 526,18.8 529,15.9 532,13.4 535,11.2 538,9.4 541,7.9 544,7.0 547,6.4 550,6.3 553,6.5 556,7.0 559,7.8 562,8.7 565,9.8 568,10.8 571,11.7 574,12.4 577,12.9 580,13.1 583,12.8 586,12.2 589,11.1 592,9.6 595,7.7 598,5.4" fill="none" stroke="#6c6c6e" stroke-width="3" opacity="0.45" transform="translate(1,2.2)"/>
<polyline points="-20,211.5 -17,208.7 -14,206.1 -11,203.9 -8,202.1 -5,200.7 -2,199.7 1,199.2 4,199.0 7,199.2 10,199.8 13,200.5 16,201.5 19,202.5 22,203.5 25,204.4 28,205.2 31,205.6 34,205.8 37,205.6 40,204.9 43,203.9 46,202.4 49,200.5 52,198.2 55,195.6 58,192.7 61,189.7 64,186.5 67,183.4 70,180.4 73,177.5 76,174.8 79,172.5 82,170.5 85,169.0 88,167.9 91,167.2 94,166.9 97,167.0 100,167.4 103,168.1 106,169.0 109,170.0 112,171.1 115,172.0 118,172.8 121,173.4 124,173.7 127,173.6 130,173.1 133,172.1 136,170.8 139,169.0 142,166.9 145,164.4 148,161.6 151,158.6 154,155.5 157,152.3 160,149.2 163,146.3 166,143.5 169,141.1 172,139.0 175,137.3 178,136.1 181,135.2 184,134.8 187,134.8 190,135.1 193,135.8 196,136.6 199,137.6 202,138.6 205,139.6 208,140.5 211,141.1 214,141.5 217,141.5 220,141.2 223,140.4 226,139.2 229,137.5 232,135.5 235,133.1 238,130.4 241,127.5 244,124.4 247,121.3 250,118.1 253,115.1 256,112.3 259,109.8 262,107.6 265,105.7 268,104.3 271,103.3 274,102.8 277,102.6 280,102.9 283,103.4 286,104.2 289,105.1 292,106.1 295,107.1 298,108.1 301,108.8 304,109.3 307,109.4 310,109.2 313,108.6 316,107.5 319,106.0 322,104.1 325,101.8 328,99.2 331,96.3 334,93.3 337,90.2 340,87.0 343,84.0 346,81.1 349,78.5 352,76.1 355,74.2 358,72.6 361,71.5 364,70.8 367,70.5 370,70.6 373,71.1 376,71.8 379,72.7 382,73.7 385,74.7 388,75.7 391,76.5 394,77.0 397,77.3 400,77.2 403,76.7 406,75.8 409,74.4 412,72.6 415,70.5 418,68.0 421,65.2 424,62.2 427,59.1 430,56.0 433,52.9 436,49.9 439,47.2 442,44.7 445,42.7 448,41.0 451,39.7 454,38.9 457,38.4 460,38.4 463,38.8 466,39.4 469,40.2 472,41.2 475,42.2 478,43.2 481,44.1 484,44.7 487,45.1 490,45.1 493,44.8 496,44.0 499,42.8 502,41.2 505,39.1 508,36.7 511,34.0 514,31.1 517,28.0 520,24.9 523,21.8 526,18.8 529,15.9 532,13.4 535,11.2 538,9.4 541,7.9 544,7.0 547,6.4 550,6.3 553,6.5 556,7.0 559,7.8 562,8.7 565,9.8 568,10.8 571,11.7 574,12.4 577,12.9 580,13.1 583,12.8 586,12.2 589,11.1 592,9.6 595,7.7 598,5.4" fill="none" stroke="#c2c2c4" stroke-width="1.7" opacity="0.9"/>
<polyline points="-20,253.5 -17,250.7 -14,248.1 -11,245.9 -8,244.1 -5,242.7 -2,241.7 1,241.2 4,241.0 7,241.2 10,241.8 13,242.5 16,243.5 19,244.5 22,245.5 25,246.4 28,247.2 31,247.6 34,247.8 37,247.6 40,246.9 43,245.9 46,244.4 49,242.5 52,240.2 55,237.6 58,234.7 61,231.7 64,228.5 67,225.4 70,222.4 73,219.5 76,216.8 79,214.5 82,212.5 85,211.0 88,209.9 91,209.2 94,208.9 97,209.0 100,209.4 103,210.1 106,211.0 109,212.0 112,213.1 115,214.0 118,214.8 121,215.4 124,215.7 127,215.6 130,215.1 133,214.1 136,212.8 139,211.0 142,208.9 145,206.4 148,203.6 151,200.6 154,197.5 157,194.3 160,191.2 163,188.3 166,185.5 169,183.1 172,181.0 175,179.3 178,178.1 181,177.2 184,176.8 187,176.8 190,177.1 193,177.8 196,178.6 199,179.6 202,180.6 205,181.6 208,182.5 211,183.1 214,183.5 217,183.5 220,183.2 223,182.4 226,181.2 229,179.5 232,177.5 235,175.1 238,172.4 241,169.5 244,166.4 247,163.3 250,160.1 253,157.1 256,154.3 259,151.8 262,149.6 265,147.7 268,146.3 271,145.3 274,144.8 277,144.6 280,144.9 283,145.4 286,146.2 289,147.1 292,148.1 295,149.1 298,150.1 301,150.8 304,151.3 307,151.4 310,151.2 313,150.6 316,149.5 319,148.0 322,146.1 325,143.8 328,141.2 331,138.3 334,135.3 337,132.2 340,129.0 343,126.0 346,123.1 349,120.5 352,118.1 355,116.2 358,114.6 361,113.5 364,112.8 367,112.5 370,112.6 373,113.1 376,113.8 379,114.7 382,115.7 385,116.7 388,117.7 391,118.5 394,119.0 397,119.3 400,119.2 403,118.7 406,117.8 409,116.4 412,114.6 415,112.5 418,110.0 421,107.2 424,104.2 427,101.1 430,98.0 433,94.9 436,91.9 439,89.2 442,86.7 445,84.7 448,83.0 451,81.7 454,80.9 457,80.4 460,80.4 463,80.8 466,81.4 469,82.2 472,83.2 475,84.2 478,85.2 481,86.1 484,86.7 487,87.1 490,87.1 493,86.8 496,86.0 499,84.8 502,83.2 505,81.1 508,78.7 511,76.0 514,73.1 517,70.0 520,66.9 523,63.8 526,60.8 529,57.9 532,55.4 535,53.2 538,51.4 541,49.9 544,49.0 547,48.4 550,48.3 553,48.5 556,49.0 559,49.8 562,50.7 565,51.8 568,52.8 571,53.7 574,54.4 577,54.9 580,55.1 583,54.8 586,54.2 589,53.1 592,51.6 595,49.7 598,47.4" fill="none" stroke="#6c6c6e" stroke-width="3" opacity="0.45" transform="translate(1,2.2)"/>
<polyline points="-20,253.5 -17,250.7 -14,248.1 -11,245.9 -8,244.1 -5,242.7 -2,241.7 1,241.2 4,241.0 7,241.2 10,241.8 13,242.5 16,243.5 19,244.5 22,245.5 25,246.4 28,247.2 31,247.6 34,247.8 37,247.6 40,246.9 43,245.9 46,244.4 49,242.5 52,240.2 55,237.6 58,234.7 61,231.7 64,228.5 67,225.4 70,222.4 73,219.5 76,216.8 79,214.5 82,212.5 85,211.0 88,209.9 91,209.2 94,208.9 97,209.0 100,209.4 103,210.1 106,211.0 109,212.0 112,213.1 115,214.0 118,214.8 121,215.4 124,215.7 127,215.6 130,215.1 133,214.1 136,212.8 139,211.0 142,208.9 145,206.4 148,203.6 151,200.6 154,197.5 157,194.3 160,191.2 163,188.3 166,185.5 169,183.1 172,181.0 175,179.3 178,178.1 181,177.2 184,176.8 187,176.8 190,177.1 193,177.8 196,178.6 199,179.6 202,180.6 205,181.6 208,182.5 211,183.1 214,183.5 217,183.5 220,183.2 223,182.4 226,181.2 229,179.5 232,177.5 235,175.1 238,172.4 241,169.5 244,166.4 247,163.3 250,160.1 253,157.1 256,154.3 259,151.8 262,149.6 265,147.7 268,146.3 271,145.3 274,144.8 277,144.6 280,144.9 283,145.4 286,146.2 289,147.1 292,148.1 295,149.1 298,150.1 301,150.8 304,151.3 307,151.4 310,151.2 313,150.6 316,149.5 319,148.0 322,146.1 325,143.8 328,141.2 331,138.3 334,135.3 337,132.2 340,129.0 343,126.0 346,123.1 349,120.5 352,118.1 355,116.2 358,114.6 361,113.5 364,112.8 367,112.5 370,112.6 373,113.1 376,113.8 379,114.7 382,115.7 385,116.7 388,117.7 391,118.5 394,119.0 397,119.3 400,119.2 403,118.7 406,117.8 409,116.4 412,114.6 415,112.5 418,110.0 421,107.2 424,104.2 427,101.1 430,98.0 433,94.9 436,91.9 439,89.2 442,86.7 445,84.7 448,83.0 451,81.7 454,80.9 457,80.4 460,80.4 463,80.8 466,81.4 469,82.2 472,83.2 475,84.2 478,85.2 481,86.1 484,86.7 487,87.1 490,87.1 493,86.8 496,86.0 499,84.8 502,83.2 505,81.1 508,78.7 511,76.0 514,73.1 517,70.0 520,66.9 523,63.8 526,60.8 529,57.9 532,55.4 535,53.2 538,51.4 541,49.9 544,49.0 547,48.4 550,48.3 553,48.5 556,49.0 559,49.8 562,50.7 565,51.8 568,52.8 571,53.7 574,54.4 577,54.9 580,55.1 583,54.8 586,54.2 589,53.1 592,51.6 595,49.7 598,47.4" fill="none" stroke="#c2c2c4" stroke-width="1.7" opacity="0.9"/>
<polyline points="-20,295.5 -17,292.7 -14,290.1 -11,287.9 -8,286.1 -5,284.7 -2,283.7 1,283.2 4,283.0 7,283.2 10,283.8 13,284.5 16,285.5 19,286.5 22,287.5 25,288.4 28,289.2 31,289.6 34,289.8 37,289.6 40,288.9 43,287.9 46,286.4 49,284.5 52,282.2 55,279.6 58,276.7 61,273.7 64,270.5 67,267.4 70,264.4 73,261.5 76,258.8 79,256.5 82,254.5 85,253.0 88,251.9 91,251.2 94,250.9 97,251.0 100,251.4 103,252.1 106,253.0 109,254.0 112,255.1 115,256.0 118,256.8 121,257.4 124,257.7 127,257.6 130,257.1 133,256.1 136,254.8 139,253.0 142,250.9 145,248.4 148,245.6 151,242.6 154,239.5 157,236.3 160,233.2 163,230.3 166,227.5 169,225.1 172,223.0 175,221.3 178,220.1 181,219.2 184,218.8 187,218.8 190,219.1 193,219.8 196,220.6 199,221.6 202,222.6 205,223.6 208,224.5 211,225.1 214,225.5 217,225.5 220,225.2 223,224.4 226,223.2 229,221.5 232,219.5 235,217.1 238,214.4 241,211.5 244,208.4 247,205.3 250,202.1 253,199.1 256,196.3 259,193.8 262,191.6 265,189.7 268,188.3 271,187.3 274,186.8 277,186.6 280,186.9 283,187.4 286,188.2 289,189.1 292,190.1 295,191.1 298,192.1 301,192.8 304,193.3 307,193.4 310,193.2 313,192.6 316,191.5 319,190.0 322,188.1 325,185.8 328,183.2 331,180.3 334,177.3 337,174.2 340,171.0 343,168.0 346,165.1 349,162.5 352,160.1 355,158.2 358,156.6 361,155.5 364,154.8 367,154.5 370,154.6 373,155.1 376,155.8 379,156.7 382,157.7 385,158.7 388,159.7 391,160.5 394,161.0 397,161.3 400,161.2 403,160.7 406,159.8 409,158.4 412,156.6 415,154.5 418,152.0 421,149.2 424,146.2 427,143.1 430,140.0 433,136.9 436,133.9 439,131.2 442,128.7 445,126.7 448,125.0 451,123.7 454,122.9 457,122.4 460,122.4 463,122.8 466,123.4 469,124.2 472,125.2 475,126.2 478,127.2 481,128.1 484,128.7 487,129.1 490,129.1 493,128.8 496,128.0 499,126.8 502,125.2 505,123.1 508,120.7 511,118.0 514,115.1 517,112.0 520,108.9 523,105.8 526,102.8 529,99.9 532,97.4 535,95.2 538,93.4 541,91.9 544,91.0 547,90.4 550,90.3 553,90.5 556,91.0 559,91.8 562,92.7 565,93.8 568,94.8 571,95.7 574,96.4 577,96.9 580,97.1 583,96.8 586,96.2 589,95.1 592,93.6 595,91.7 598,89.4" fill="none" stroke="#6c6c6e" stroke-width="3" opacity="0.45" transform="translate(1,2.2)"/>
<polyline points="-20,295.5 -17,292.7 -14,290.1 -11,287.9 -8,286.1 -5,284.7 -2,283.7 1,283.2 4,283.0 7,283.2 10,283.8 13,284.5 16,285.5 19,286.5 22,287.5 25,288.4 28,289.2 31,289.6 34,289.8 37,289.6 40,288.9 43,287.9 46,286.4 49,284.5 52,282.2 55,279.6 58,276.7 61,273.7 64,270.5 67,267.4 70,264.4 73,261.5 76,258.8 79,256.5 82,254.5 85,253.0 88,251.9 91,251.2 94,250.9 97,251.0 100,251.4 103,252.1 106,253.0 109,254.0 112,255.1 115,256.0 118,256.8 121,257.4 124,257.7 127,257.6 130,257.1 133,256.1 136,254.8 139,253.0 142,250.9 145,248.4 148,245.6 151,242.6 154,239.5 157,236.3 160,233.2 163,230.3 166,227.5 169,225.1 172,223.0 175,221.3 178,220.1 181,219.2 184,218.8 187,218.8 190,219.1 193,219.8 196,220.6 199,221.6 202,222.6 205,223.6 208,224.5 211,225.1 214,225.5 217,225.5 220,225.2 223,224.4 226,223.2 229,221.5 232,219.5 235,217.1 238,214.4 241,211.5 244,208.4 247,205.3 250,202.1 253,199.1 256,196.3 259,193.8 262,191.6 265,189.7 268,188.3 271,187.3 274,186.8 277,186.6 280,186.9 283,187.4 286,188.2 289,189.1 292,190.1 295,191.1 298,192.1 301,192.8 304,193.3 307,193.4 310,193.2 313,192.6 316,191.5 319,190.0 322,188.1 325,185.8 328,183.2 331,180.3 334,177.3 337,174.2 340,171.0 343,168.0 346,165.1 349,162.5 352,160.1 355,158.2 358,156.6 361,155.5 364,154.8 367,154.5 370,154.6 373,155.1 376,155.8 379,156.7 382,157.7 385,158.7 388,159.7 391,160.5 394,161.0 397,161.3 400,161.2 403,160.7 406,159.8 409,158.4 412,156.6 415,154.5 418,152.0 421,149.2 424,146.2 427,143.1 430,140.0 433,136.9 436,133.9 439,131.2 442,128.7 445,126.7 448,125.0 451,123.7 454,122.9 457,122.4 460,122.4 463,122.8 466,123.4 469,124.2 472,125.2 475,126.2 478,127.2 481,128.1 484,128.7 487,129.1 490,129.1 493,128.8 496,128.0 499,126.8 502,125.2 505,123.1 508,120.7 511,118.0 514,115.1 517,112.0 520,108.9 523,105.8 526,102.8 529,99.9 532,97.4 535,95.2 538,93.4 541,91.9 544,91.0 547,90.4 550,90.3 553,90.5 556,91.0 559,91.8 562,92.7 565,93.8 568,94.8 571,95.7 574,96.4 577,96.9 580,97.1 583,96.8 586,96.2 589,95.1 592,93.6 595,91.7 598,89.4" fill="none" stroke="#c2c2c4" stroke-width="1.7" opacity="0.9"/>
<polyline points="-20,337.5 -17,334.7 -14,332.1 -11,329.9 -8,328.1 -5,326.7 -2,325.7 1,325.2 4,325.0 7,325.2 10,325.8 13,326.5 16,327.5 19,328.5 22,329.5 25,330.4 28,331.2 31,331.6 34,331.8 37,331.6 40,330.9 43,329.9 46,328.4 49,326.5 52,324.2 55,321.6 58,318.7 61,315.7 64,312.5 67,309.4 70,306.4 73,303.5 76,300.8 79,298.5 82,296.5 85,295.0 88,293.9 91,293.2 94,292.9 97,293.0 100,293.4 103,294.1 106,295.0 109,296.0 112,297.1 115,298.0 118,298.8 121,299.4 124,299.7 127,299.6 130,299.1 133,298.1 136,296.8 139,295.0 142,292.9 145,290.4 148,287.6 151,284.6 154,281.5 157,278.3 160,275.2 163,272.3 166,269.5 169,267.1 172,265.0 175,263.3 178,262.1 181,261.2 184,260.8 187,260.8 190,261.1 193,261.8 196,262.6 199,263.6 202,264.6 205,265.6 208,266.5 211,267.1 214,267.5 217,267.5 220,267.2 223,266.4 226,265.2 229,263.5 232,261.5 235,259.1 238,256.4 241,253.5 244,250.4 247,247.3 250,244.1 253,241.1 256,238.3 259,235.8 262,233.6 265,231.7 268,230.3 271,229.3 274,228.8 277,228.6 280,228.9 283,229.4 286,230.2 289,231.1 292,232.1 295,233.1 298,234.1 301,234.8 304,235.3 307,235.4 310,235.2 313,234.6 316,233.5 319,232.0 322,230.1 325,227.8 328,225.2 331,222.3 334,219.3 337,216.2 340,213.0 343,210.0 346,207.1 349,204.5 352,202.1 355,200.2 358,198.6 361,197.5 364,196.8 367,196.5 370,196.6 373,197.1 376,197.8 379,198.7 382,199.7 385,200.7 388,201.7 391,202.5 394,203.0 397,203.3 400,203.2 403,202.7 406,201.8 409,200.4 412,198.6 415,196.5 418,194.0 421,191.2 424,188.2 427,185.1 430,182.0 433,178.9 436,175.9 439,173.2 442,170.7 445,168.7 448,167.0 451,165.7 454,164.9 457,164.4 460,164.4 463,164.8 466,165.4 469,166.2 472,167.2 475,168.2 478,169.2 481,170.1 484,170.7 487,171.1 490,171.1 493,170.8 496,170.0 499,168.8 502,167.2 505,165.1 508,162.7 511,160.0 514,157.1 517,154.0 520,150.9 523,147.8 526,144.8 529,141.9 532,139.4 535,137.2 538,135.4 541,133.9 544,133.0 547,132.4 550,132.3 553,132.5 556,133.0 559,133.8 562,134.7 565,135.8 568,136.8 571,137.7 574,138.4 577,138.9 580,139.1 583,138.8 586,138.2 589,137.1 592,135.6 595,133.7 598,131.4" fill="none" stroke="#6c6c6e" stroke-width="3" opacity="0.45" transform="translate(1,2.2)"/>
<polyline points="-20,337.5 -17,334.7 -14,332.1 -11,329.9 -8,328.1 -5,326.7 -2,325.7 1,325.2 4,325.0 7,325.2 10,325.8 13,326.5 16,327.5 19,328.5 22,329.5 25,330.4 28,331.2 31,331.6 34,331.8 37,331.6 40,330.9 43,329.9 46,328.4 49,326.5 52,324.2 55,321.6 58,318.7 61,315.7 64,312.5 67,309.4 70,306.4 73,303.5 76,300.8 79,298.5 82,296.5 85,295.0 88,293.9 91,293.2 94,292.9 97,293.0 100,293.4 103,294.1 106,295.0 109,296.0 112,297.1 115,298.0 118,298.8 121,299.4 124,299.7 127,299.6 130,299.1 133,298.1 136,296.8 139,295.0 142,292.9 145,290.4 148,287.6 151,284.6 154,281.5 157,278.3 160,275.2 163,272.3 166,269.5 169,267.1 172,265.0 175,263.3 178,262.1 181,261.2 184,260.8 187,260.8 190,261.1 193,261.8 196,262.6 199,263.6 202,264.6 205,265.6 208,266.5 211,267.1 214,267.5 217,267.5 220,267.2 223,266.4 226,265.2 229,263.5 232,261.5 235,259.1 238,256.4 241,253.5 244,250.4 247,247.3 250,244.1 253,241.1 256,238.3 259,235.8 262,233.6 265,231.7 268,230.3 271,229.3 274,228.8 277,228.6 280,228.9 283,229.4 286,230.2 289,231.1 292,232.1 295,233.1 298,234.1 301,234.8 304,235.3 307,235.4 310,235.2 313,234.6 316,233.5 319,232.0 322,230.1 325,227.8 328,225.2 331,222.3 334,219.3 337,216.2 340,213.0 343,210.0 346,207.1 349,204.5 352,202.1 355,200.2 358,198.6 361,197.5 364,196.8 367,196.5 370,196.6 373,197.1 376,197.8 379,198.7 382,199.7 385,200.7 388,201.7 391,202.5 394,203.0 397,203.3 400,203.2 403,202.7 406,201.8 409,200.4 412,198.6 415,196.5 418,194.0 421,191.2 424,188.2 427,185.1 430,182.0 433,178.9 436,175.9 439,173.2 442,170.7 445,168.7 448,167.0 451,165.7 454,164.9 457,164.4 460,164.4 463,164.8 466,165.4 469,166.2 472,167.2 475,168.2 478,169.2 481,170.1 484,170.7 487,171.1 490,171.1 493,170.8 496,170.0 499,168.8 502,167.2 505,165.1 508,162.7 511,160.0 514,157.1 517,154.0 520,150.9 523,147.8 526,144.8 529,141.9 532,139.4 535,137.2 538,135.4 541,133.9 544,133.0 547,132.4 550,132.3 553,132.5 556,133.0 559,133.8 562,134.7 565,135.8 568,136.8 571,137.7 574,138.4 577,138.9 580,139.1 583,138.8 586,138.2 589,137.1 592,135.6 595,133.7 598,131.4" fill="none" stroke="#c2c2c4" stroke-width="1.7" opacity="0.9"/>
<polyline points="-20,379.5 -17,376.7 -14,374.1 -11,371.9 -8,370.1 -5,368.7 -2,367.7 1,367.2 4,367.0 7,367.2 10,367.8 13,368.5 16,369.5 19,370.5 22,371.5 25,372.4 28,373.2 31,373.6 34,373.8 37,373.6 40,372.9 43,371.9 46,370.4 49,368.5 52,366.2 55,363.6 58,360.7 61,357.7 64,354.5 67,351.4 70,348.4 73,345.5 76,342.8 79,340.5 82,338.5 85,337.0 88,335.9 91,335.2 94,334.9 97,335.0 100,335.4 103,336.1 106,337.0 109,338.0 112,339.1 115,340.0 118,340.8 121,341.4 124,341.7 127,341.6 130,341.1 133,340.1 136,338.8 139,337.0 142,334.9 145,332.4 148,329.6 151,326.6 154,323.5 157,320.3 160,317.2 163,314.3 166,311.5 169,309.1 172,307.0 175,305.3 178,304.1 181,303.2 184,302.8 187,302.8 190,303.1 193,303.8 196,304.6 199,305.6 202,306.6 205,307.6 208,308.5 211,309.1 214,309.5 217,309.5 220,309.2 223,308.4 226,307.2 229,305.5 232,303.5 235,301.1 238,298.4 241,295.5 244,292.4 247,289.3 250,286.1 253,283.1 256,280.3 259,277.8 262,275.6 265,273.7 268,272.3 271,271.3 274,270.8 277,270.6 280,270.9 283,271.4 286,272.2 289,273.1 292,274.1 295,275.1 298,276.1 301,276.8 304,277.3 307,277.4 310,277.2 313,276.6 316,275.5 319,274.0 322,272.1 325,269.8 328,267.2 331,264.3 334,261.3 337,258.2 340,255.0 343,252.0 346,249.1 349,246.5 352,244.1 355,242.2 358,240.6 361,239.5 364,238.8 367,238.5 370,238.6 373,239.1 376,239.8 379,240.7 382,241.7 385,242.7 388,243.7 391,244.5 394,245.0 397,245.3 400,245.2 403,244.7 406,243.8 409,242.4 412,240.6 415,238.5 418,236.0 421,233.2 424,230.2 427,227.1 430,224.0 433,220.9 436,217.9 439,215.2 442,212.7 445,210.7 448,209.0 451,207.7 454,206.9 457,206.4 460,206.4 463,206.8 466,207.4 469,208.2 472,209.2 475,210.2 478,211.2 481,212.1 484,212.7 487,213.1 490,213.1 493,212.8 496,212.0 499,210.8 502,209.2 505,207.1 508,204.7 511,202.0 514,199.1 517,196.0 520,192.9 523,189.8 526,186.8 529,183.9 532,181.4 535,179.2 538,177.4 541,175.9 544,175.0 547,174.4 550,174.3 553,174.5 556,175.0 559,175.8 562,176.7 565,177.8 568,178.8 571,179.7 574,180.4 577,180.9 580,181.1 583,180.8 586,180.2 589,179.1 592,177.6 595,175.7 598,173.4" fill="none" stroke="#6c6c6e" stroke-width="3" opacity="0.45" transform="translate(1,2.2)"/>
<polyline points="-20,379.5 -17,376.7 -14,374.1 -11,371.9 -8,370.1 -5,368.7 -2,367.7 1,367.2 4,367.0 7,367.2 10,367.8 13,368.5 16,369.5 19,370.5 22,371.5 25,372.4 28,373.2 31,373.6 34,373.8 37,373.6 40,372.9 43,371.9 46,370.4 49,368.5 52,366.2 55,363.6 58,360.7 61,357.7 64,354.5 67,351.4 70,348.4 73,345.5 76,342.8 79,340.5 82,338.5 85,337.0 88,335.9 91,335.2 94,334.9 97,335.0 100,335.4 103,336.1 106,337.0 109,338.0 112,339.1 115,340.0 118,340.8 121,341.4 124,341.7 127,341.6 130,341.1 133,340.1 136,338.8 139,337.0 142,334.9 145,332.4 148,329.6 151,326.6 154,323.5 157,320.3 160,317.2 163,314.3 166,311.5 169,309.1 172,307.0 175,305.3 178,304.1 181,303.2 184,302.8 187,302.8 190,303.1 193,303.8 196,304.6 199,305.6 202,306.6 205,307.6 208,308.5 211,309.1 214,309.5 217,309.5 220,309.2 223,308.4 226,307.2 229,305.5 232,303.5 235,301.1 238,298.4 241,295.5 244,292.4 247,289.3 250,286.1 253,283.1 256,280.3 259,277.8 262,275.6 265,273.7 268,272.3 271,271.3 274,270.8 277,270.6 280,270.9 283,271.4 286,272.2 289,273.1 292,274.1 295,275.1 298,276.1 301,276.8 304,277.3 307,277.4 310,277.2 313,276.6 316,275.5 319,274.0 322,272.1 325,269.8 328,267.2 331,264.3 334,261.3 337,258.2 340,255.0 343,252.0 346,249.1 349,246.5 352,244.1 355,242.2 358,240.6 361,239.5 364,238.8 367,238.5 370,238.6 373,239.1 376,239.8 379,240.7 382,241.7 385,242.7 388,243.7 391,244.5 394,245.0 397,245.3 400,245.2 403,244.7 406,243.8 409,242.4 412,240.6 415,238.5 418,236.0 421,233.2 424,230.2 427,227.1 430,224.0 433,220.9 436,217.9 439,215.2 442,212.7 445,210.7 448,209.0 451,207.7 454,206.9 457,206.4 460,206.4 463,206.8 466,207.4 469,208.2 472,209.2 475,210.2 478,211.2 481,212.1 484,212.7 487,213.1 490,213.1 493,212.8 496,212.0 499,210.8 502,209.2 505,207.1 508,204.7 511,202.0 514,199.1 517,196.0 520,192.9 523,189.8 526,186.8 529,183.9 532,181.4 535,179.2 538,177.4 541,175.9 544,175.0 547,174.4 550,174.3 553,174.5 556,175.0 559,175.8 562,176.7 565,177.8 568,178.8 571,179.7 574,180.4 577,180.9 580,181.1 583,180.8 586,180.2 589,179.1 592,177.6 595,175.7 598,173.4" fill="none" stroke="#c2c2c4" stroke-width="1.7" opacity="0.9"/>
<polyline points="-20,421.5 -17,418.7 -14,416.1 -11,413.9 -8,412.1 -5,410.7 -2,409.7 1,409.2 4,409.0 7,409.2 10,409.8 13,410.5 16,411.5 19,412.5 22,413.5 25,414.4 28,415.2 31,415.6 34,415.8 37,415.6 40,414.9 43,413.9 46,412.4 49,410.5 52,408.2 55,405.6 58,402.7 61,399.7 64,396.5 67,393.4 70,390.4 73,387.5 76,384.8 79,382.5 82,380.5 85,379.0 88,377.9 91,377.2 94,376.9 97,377.0 100,377.4 103,378.1 106,379.0 109,380.0 112,381.1 115,382.0 118,382.8 121,383.4 124,383.7 127,383.6 130,383.1 133,382.1 136,380.8 139,379.0 142,376.9 145,374.4 148,371.6 151,368.6 154,365.5 157,362.3 160,359.2 163,356.3 166,353.5 169,351.1 172,349.0 175,347.3 178,346.1 181,345.2 184,344.8 187,344.8 190,345.1 193,345.8 196,346.6 199,347.6 202,348.6 205,349.6 208,350.5 211,351.1 214,351.5 217,351.5 220,351.2 223,350.4 226,349.2 229,347.5 232,345.5 235,343.1 238,340.4 241,337.5 244,334.4 247,331.3 250,328.1 253,325.1 256,322.3 259,319.8 262,317.6 265,315.7 268,314.3 271,313.3 274,312.8 277,312.6 280,312.9 283,313.4 286,314.2 289,315.1 292,316.1 295,317.1 298,318.1 301,318.8 304,319.3 307,319.4 310,319.2 313,318.6 316,317.5 319,316.0 322,314.1 325,311.8 328,309.2 331,306.3 334,303.3 337,300.2 340,297.0 343,294.0 346,291.1 349,288.5 352,286.1 355,284.2 358,282.6 361,281.5 364,280.8 367,280.5 370,280.6 373,281.1 376,281.8 379,282.7 382,283.7 385,284.7 388,285.7 391,286.5 394,287.0 397,287.3 400,287.2 403,286.7 406,285.8 409,284.4 412,282.6 415,280.5 418,278.0 421,275.2 424,272.2 427,269.1 430,266.0 433,262.9 436,259.9 439,257.2 442,254.7 445,252.7 448,251.0 451,249.7 454,248.9 457,248.4 460,248.4 463,248.8 466,249.4 469,250.2 472,251.2 475,252.2 478,253.2 481,254.1 484,254.7 487,255.1 490,255.1 493,254.8 496,254.0 499,252.8 502,251.2 505,249.1 508,246.7 511,244.0 514,241.1 517,238.0 520,234.9 523,231.8 526,228.8 529,225.9 532,223.4 535,221.2 538,219.4 541,217.9 544,217.0 547,216.4 550,216.3 553,216.5 556,217.0 559,217.8 562,218.7 565,219.8 568,220.8 571,221.7 574,222.4 577,222.9 580,223.1 583,222.8 586,222.2 589,221.1 592,219.6 595,217.7 598,215.4" fill="none" stroke="#6c6c6e" stroke-width="3" opacity="0.45" transform="translate(1,2.2)"/>
<polyline points="-20,421.5 -17,418.7 -14,416.1 -11,413.9 -8,412.1 -5,410.7 -2,409.7 1,409.2 4,409.0 7,409.2 10,409.8 13,410.5 16,411.5 19,412.5 22,413.5 25,414.4 28,415.2 31,415.6 34,415.8 37,415.6 40,414.9 43,413.9 46,412.4 49,410.5 52,408.2 55,405.6 58,402.7 61,399.7 64,396.5 67,393.4 70,390.4 73,387.5 76,384.8 79,382.5 82,380.5 85,379.0 88,377.9 91,377.2 94,376.9 97,377.0 100,377.4 103,378.1 106,379.0 109,380.0 112,381.1 115,382.0 118,382.8 121,383.4 124,383.7 127,383.6 130,383.1 133,382.1 136,380.8 139,379.0 142,376.9 145,374.4 148,371.6 151,368.6 154,365.5 157,362.3 160,359.2 163,356.3 166,353.5 169,351.1 172,349.0 175,347.3 178,346.1 181,345.2 184,344.8 187,344.8 190,345.1 193,345.8 196,346.6 199,347.6 202,348.6 205,349.6 208,350.5 211,351.1 214,351.5 217,351.5 220,351.2 223,350.4 226,349.2 229,347.5 232,345.5 235,343.1 238,340.4 241,337.5 244,334.4 247,331.3 250,328.1 253,325.1 256,322.3 259,319.8 262,317.6 265,315.7 268,314.3 271,313.3 274,312.8 277,312.6 280,312.9 283,313.4 286,314.2 289,315.1 292,316.1 295,317.1 298,318.1 301,318.8 304,319.3 307,319.4 310,319.2 313,318.6 316,317.5 319,316.0 322,314.1 325,311.8 328,309.2 331,306.3 334,303.3 337,300.2 340,297.0 343,294.0 346,291.1 349,288.5 352,286.1 355,284.2 358,282.6 361,281.5 364,280.8 367,280.5 370,280.6 373,281.1 376,281.8 379,282.7 382,283.7 385,284.7 388,285.7 391,286.5 394,287.0 397,287.3 400,287.2 403,286.7 406,285.8 409,284.4 412,282.6 415,280.5 418,278.0 421,275.2 424,272.2 427,269.1 430,266.0 433,262.9 436,259.9 439,257.2 442,254.7 445,252.7 448,251.0 451,249.7 454,248.9 457,248.4 460,248.4 463,248.8 466,249.4 469,250.2 472,251.2 475,252.2 478,253.2 481,254.1 484,254.7 487,255.1 490,255.1 493,254.8 496,254.0 499,252.8 502,251.2 505,249.1 508,246.7 511,244.0 514,241.1 517,238.0 520,234.9 523,231.8 526,228.8 529,225.9 532,223.4 535,221.2 538,219.4 541,217.9 544,217.0 547,216.4 550,216.3 553,216.5 556,217.0 559,217.8 562,218.7 565,219.8 568,220.8 571,221.7 574,222.4 577,222.9 580,223.1 583,222.8 586,222.2 589,221.1 592,219.6 595,217.7 598,215.4" fill="none" stroke="#c2c2c4" stroke-width="1.7" opacity="0.9"/>
<polygon points="548.0,60.0 572.0,60.0 572.0,175.0 548.0,185.0" fill="url(#endfade)" />
</g>
<polyline points="0.0,396.0 150.0,341.0 266.0,296.0 450.0,227.0 540.0,187.0 560.0,177.0 568.0,172.0 570.0,168.0" fill="none" stroke="url(#pip2)" stroke-width="8" stroke-linejoin="round" stroke-linecap="round"/>
<path d="M-5,218 L100,182.5 L250,128 L300,112 L400,82 L500,47.5 L556,23 Q572,17 569,8 Q564,1 538,-4" fill="none" stroke="url(#pip)" stroke-width="11.5" stroke-linejoin="round"/>
<polygon points="427.0,77.0 443.0,72.0 487.0,59.0 492.0,98.0 434.0,117.5 428.0,110.0" fill="#f2f2f2" />
<path d="M427.5,110 Q447,107 459,99 Q468,91 480,87 L491,84 L492.5,98.3 L434,117.5 L428,112 Z" fill="#141414"/>
<circle cx="466.5" cy="101" r="4.3" fill="#d8d8d8"/>
<path d="M447,80 L437.5,99 L453,93.5 M446.5,86 L442.5,106" fill="none" stroke="#151515" stroke-width="1.7" stroke-linecap="round"/>
<text x="449" y="84.5" font-family="Liberation Sans" font-weight="bold" font-size="7.5" fill="#151515" transform="rotate(-17 449 84.5)">HOME</text>
<line x1="448" y1="88" x2="471" y2="81" stroke="#151515" stroke-width="1"/>
<text x="446" y="99" font-family="Liberation Serif" font-style="italic" font-weight="bold" font-size="8" fill="#151515" transform="rotate(-15 446 99)">you</text>
<line x1="473" y1="95" x2="486" y2="91" stroke="#cfcfcf" stroke-width="1.6"/>
<line x1="474" y1="98.5" x2="486" y2="95" stroke="#8a8a8a" stroke-width="0.8"/>
<line x1="235.6" y1="74.1" x2="625" y2="74.1" stroke="#333333" stroke-width="3.4"/>
<circle cx="235.6" cy="73.9" r="7.9" fill="#333333"/>
<line x1="492.5" y1="253.2" x2="762" y2="253.2" stroke="#333333" stroke-width="3.4"/>
<circle cx="492.5" cy="252.8" r="7.9" fill="#333333"/>
<line x1="541.5" y1="330.5" x2="619" y2="330.5" stroke="#333333" stroke-width="3.4"/>
<circle cx="541.5" cy="330.7" r="7.9" fill="#333333"/>
<line x1="540.8" y1="412.7" x2="619" y2="412.7" stroke="#333333" stroke-width="3.4"/>
<circle cx="540.8" cy="412" r="7.9" fill="#333333"/>
<line x1="497.3" y1="493" x2="766" y2="493" stroke="#333333" stroke-width="3.4"/>
<circle cx="497.3" cy="492" r="7.9" fill="#333333"/>
<line x1="519" y1="588.4" x2="600" y2="588.4" stroke="#333333" stroke-width="3.4"/>
<circle cx="519" cy="587.5" r="7.9" fill="#333333"/>
<line x1="544" y1="785.5" x2="620" y2="785.5" stroke="#333333" stroke-width="3.4"/>
<circle cx="544" cy="784.7" r="7.9" fill="#333333"/>
<line x1="540.3" y1="879.3" x2="623" y2="879.3" stroke="#333333" stroke-width="3.4"/>
<circle cx="540.3" cy="878.7" r="7.9" fill="#333333"/>
<line x1="498" y1="980.4" x2="766.7" y2="980.4" stroke="#333333" stroke-width="3.4"/>
<circle cx="498" cy="980" r="7.9" fill="#333333"/>
<line x1="396.8" y1="1089.9" x2="618" y2="1089.9" stroke="#333333" stroke-width="3.4"/>
<circle cx="396.8" cy="1089.4" r="7.9" fill="#333333"/>
<rect x="625" y="48.8" width="464.5" height="51.60000000000001" rx="25.800000000000004" ry="25.800000000000004" fill="#333333"/>
<rect x="618.75" y="304.4" width="464.3499999999999" height="51.85000000000002" rx="25.92500000000001" ry="25.92500000000001" fill="#333333"/>
<rect x="618.75" y="386.25" width="464.3499999999999" height="51.25" rx="25.625" ry="25.625" fill="#333333"/>
<rect x="600" y="536" width="509.4000000000001" height="104.60000000000002" rx="52.30000000000001" ry="52.30000000000001" fill="#333333"/>
<rect x="619.8" y="758.7" width="465.10000000000014" height="52.19999999999993" rx="26.099999999999966" ry="26.099999999999966" fill="#333333"/>
<rect x="622.9" y="852.2" width="465.1" height="52.19999999999993" rx="26.099999999999966" ry="26.099999999999966" fill="#333333"/>
<rect x="617.7" y="1063.25" width="465.29999999999995" height="51.75" rx="25.875" ry="25.875" fill="#333333"/>
<g opacity="0.999">
<text x="658.5" y="82.9" font-family="Liberation Sans, sans-serif" font-size="27" font-weight="bold" fill="#fff" textLength="397.0" lengthAdjust="spacingAndGlyphs" >Elastne ja tugev kangas, 280g/m</text>
<text x="1055" y="73.5" font-family="Liberation Sans, sans-serif" font-size="15" font-weight="bold" fill="#fff" textLength="8.5" lengthAdjust="spacingAndGlyphs" >2</text>
<text x="663.5" y="338.7" font-family="Liberation Sans, sans-serif" font-size="27.5" font-weight="bold" fill="#fff" textLength="377.5" lengthAdjust="spacingAndGlyphs" >HIGH DENSITY poroloon 2.5cm</text>
<text x="786.0" y="420.4" font-family="Liberation Sans, sans-serif" font-size="27.5" font-weight="bold" fill="#fff" textLength="150.89999999999998" lengthAdjust="spacingAndGlyphs" >Vahekangas</text>
<text x="622.8" y="583" font-family="Liberation Sans, sans-serif" font-size="27.5" font-weight="bold" fill="#fff" textLength="466.70000000000005" lengthAdjust="spacingAndGlyphs" >DELUXE-pakitud vedrud H22cm (kes-</text>
<text x="723.5" y="617" font-family="Liberation Sans, sans-serif" font-size="27.5" font-weight="bold" fill="#fff" textLength="264.29999999999995" lengthAdjust="spacingAndGlyphs" >kmine jäikus 1,9mm)</text>
<text x="783.9" y="793.3" font-family="Liberation Sans, sans-serif" font-size="27.5" font-weight="bold" fill="#fff" textLength="155.10000000000002" lengthAdjust="spacingAndGlyphs" >Vahekangas</text>
<text x="663.6" y="886.8" font-family="Liberation Sans, sans-serif" font-size="27.5" font-weight="bold" fill="#fff" textLength="390.1" lengthAdjust="spacingAndGlyphs" >HIGH DENSITY poroloon 2.5cm</text>
<text x="651.75" y="1095.5" font-family="Liberation Sans, sans-serif" font-size="27.5" font-weight="bold" fill="#fff" textLength="409.75" lengthAdjust="spacingAndGlyphs" >Elastne ja tugev kangas, 280g/m</text>
<text x="1061" y="1085.5" font-family="Liberation Sans, sans-serif" font-size="15" font-weight="bold" fill="#fff" textLength="8.700000000000045" lengthAdjust="spacingAndGlyphs" >2</text>
<text x="781.6" y="257.6" font-family="Liberation Sans, sans-serif" font-size="27.5" font-weight="normal" fill="#3e3e3e" textLength="170.69999999999993" lengthAdjust="spacingAndGlyphs" stroke="#3e3e3e" stroke-width="1.1">Poroloon 1cm</text>
<text x="776.1" y="500" font-family="Liberation Sans, sans-serif" font-size="27.5" font-weight="normal" fill="#3e3e3e" textLength="182.39999999999998" lengthAdjust="spacingAndGlyphs" stroke="#3e3e3e" stroke-width="1.1">Naturaalne vilt</text>
<text x="775.5" y="724" font-family="Liberation Sans, sans-serif" font-size="27.5" font-weight="normal" fill="#3e3e3e" textLength="183.5" lengthAdjust="spacingAndGlyphs" stroke="#3e3e3e" stroke-width="1.1">Naturaalne vilt</text>
<text x="781.8" y="985" font-family="Liberation Sans, sans-serif" font-size="27.5" font-weight="normal" fill="#3e3e3e" textLength="170.5" lengthAdjust="spacingAndGlyphs" stroke="#3e3e3e" stroke-width="1.1">Poroloon 1cm</text>
</g>
</svg>
</body></html>
